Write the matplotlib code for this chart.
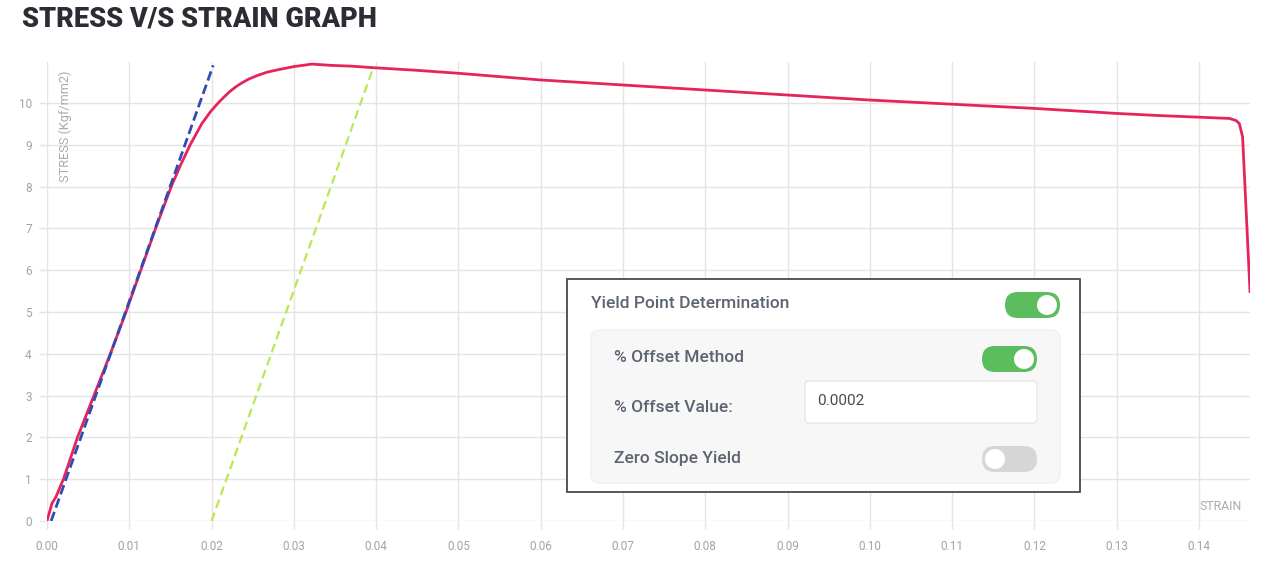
import matplotlib.pyplot as plt
from matplotlib.patches import FancyBboxPatch, Rectangle, Circle

# Stress-strain data
strain = [0, 0.0006, 0.0011, 0.0016, 0.0020, 0.0037, 0.0057, 0.0077, 0.0096,
          0.0114, 0.0132, 0.0151, 0.0162, 0.0174, 0.0188, 0.0199, 0.0208, 0.0215,
          0.0222, 0.0229, 0.0236, 0.0245, 0.0256, 0.0268, 0.0282, 0.0300, 0.0322,
          0.0345, 0.0370, 0.0400, 0.0450, 0.0500, 0.0550, 0.0600, 0.0650, 0.0700,
          0.0750, 0.0800, 0.0850, 0.0900, 0.0950, 0.1000, 0.1050, 0.1100, 0.1150,
          0.1200, 0.1250, 0.1300, 0.1350, 0.1400, 0.1437, 0.1445, 0.1449, 0.1453,
          0.1462]
stress = [0, 0.42, 0.58, 0.82, 1.0, 2.0, 3.0, 4.0, 5.0,
          6.0, 7.0, 8.0, 8.5, 9.0, 9.5, 9.8, 10.0, 10.14,
          10.27, 10.38, 10.47, 10.57, 10.66, 10.74, 10.8, 10.87, 10.93,
          10.9, 10.88, 10.84, 10.78, 10.71, 10.63, 10.55, 10.49, 10.43,
          10.37, 10.31, 10.25, 10.19, 10.13, 10.07, 10.02, 9.97, 9.92,
          9.87, 9.81, 9.75, 9.70, 9.66, 9.63, 9.58, 9.51, 9.19,
          5.49]

# elastic line and offset line
elastic_strain = [0.0005, 0.0202]
elastic_stress = [0, 10.9]
offset_strain = [0.0200, 0.0397]
offset_stress = [0, 10.87]

x_ticks = [0.00, 0.01, 0.02, 0.03, 0.04, 0.05, 0.06, 0.07, 0.08, 0.09, 0.10, 0.11, 0.12, 0.13, 0.14]
y_ticks = [0, 1, 2, 3, 4, 5, 6, 7, 8, 9, 10]

plt.rcParams['font.family'] = ['Roboto', 'DejaVu Sans']

W, H = 1268, 580
fig = plt.figure(figsize=(W / 100, H / 100), dpi=100)
fig.patch.set_facecolor('white')

# main plot area
ax = fig.add_axes([47 / W, 1 - 521 / H, 1203 / W, 459 / H])
grid_col = '#e4e4e4'
ax.plot(strain, stress, color='#e5255a', lw=2, zorder=3, solid_joinstyle='round')
ax.plot(elastic_strain, elastic_stress, color='#2f4cb5', lw=2, ls=(0, (3.5, 1.6)), zorder=4)
ax.plot(offset_strain, offset_stress, color='#b8e857', lw=1.6, ls=(0, (4, 2.2)), zorder=4)

ax.set_xlim(0, 0.1462)
ax.set_ylim(0, 10.98)
ax.set_xticks(x_ticks)
ax.set_xticklabels(['%.2f' % v for v in x_ticks])
ax.set_yticks(y_ticks)
ax.grid(True, color=grid_col, lw=1)
ax.set_axisbelow(True)
for s in ax.spines.values():
    s.set_visible(False)
ax.tick_params(axis='both', colors='#a3a3a3', labelsize=8.5, length=6, width=1)
ax.tick_params(axis='x', pad=8, color=grid_col)
ax.tick_params(axis='y', pad=5, color=grid_col)

ax.text(0.0022, 10.78, 'STRESS (Kgf/mm2)', rotation=90, ha='center', va='top',
        color='#ababab', fontsize=9.2)
ax.text(0.1452, 0.18, 'STRAIN', ha='right', va='bottom', color='#ababab', fontsize=8.8)

# title
fig.text(22 / W, 1 - 19 / H, 'STRESS V/S STRAIN GRAPH', fontsize=19.5, fontweight='heavy',
         color='#2a2d33', va='center', ha='left')

# settings panel drawn on an overlay in pixel units
ov = fig.add_axes([0, 0, 1, 1], zorder=10)
ov.set_xlim(0, W)
ov.set_ylim(H, 0)
ov.axis('off')

ov.add_patch(Rectangle((567, 279), 513, 213, facecolor='white', edgecolor='#4a4a4a', lw=1.3))
ov.add_patch(FancyBboxPatch((591, 330), 469, 153, boxstyle='round,pad=0,rounding_size=9',
                            facecolor='#f7f7f8', edgecolor='#f0f0f1', lw=1))

label_col = '#5c6470'
ov.text(591, 304, 'Yield Point Determination', fontsize=12.5, fontweight='medium',
        color=label_col, va='center', ha='left')
ov.text(614, 358, '% Offset Method', fontsize=12.5, fontweight='medium',
        color=label_col, va='center', ha='left')
ov.text(614, 407, '% Offset Value:', fontsize=12.5, fontweight='medium',
        color=label_col, va='center', ha='left')
ov.text(614, 459, 'Zero Slope Yield', fontsize=12.5, fontweight='medium',
        color=label_col, va='center', ha='left')

# input box
ov.add_patch(FancyBboxPatch((805, 381), 232, 42, boxstyle='round,pad=0,rounding_size=4',
                            facecolor='white', edgecolor='#e6e6e6', lw=1))
ov.text(817, 401, '0.0002', fontsize=11, color='#4a4a4a', va='center', ha='left')


def toggle(x, y, on):
    col = '#5cbd5e' if on else '#d6d6d6'
    ov.add_patch(FancyBboxPatch((x, y), 55, 26, boxstyle='round,pad=0,rounding_size=13',
                                facecolor=col, edgecolor='none'))
    cx = x + 42 if on else x + 13
    ov.add_patch(Circle((cx, y + 13), 10, facecolor='white', edgecolor='none'))


toggle(1005, 292, True)
toggle(982, 346, True)
toggle(982, 446, False)

fig.savefig('out.png', dpi=100, facecolor='white')
